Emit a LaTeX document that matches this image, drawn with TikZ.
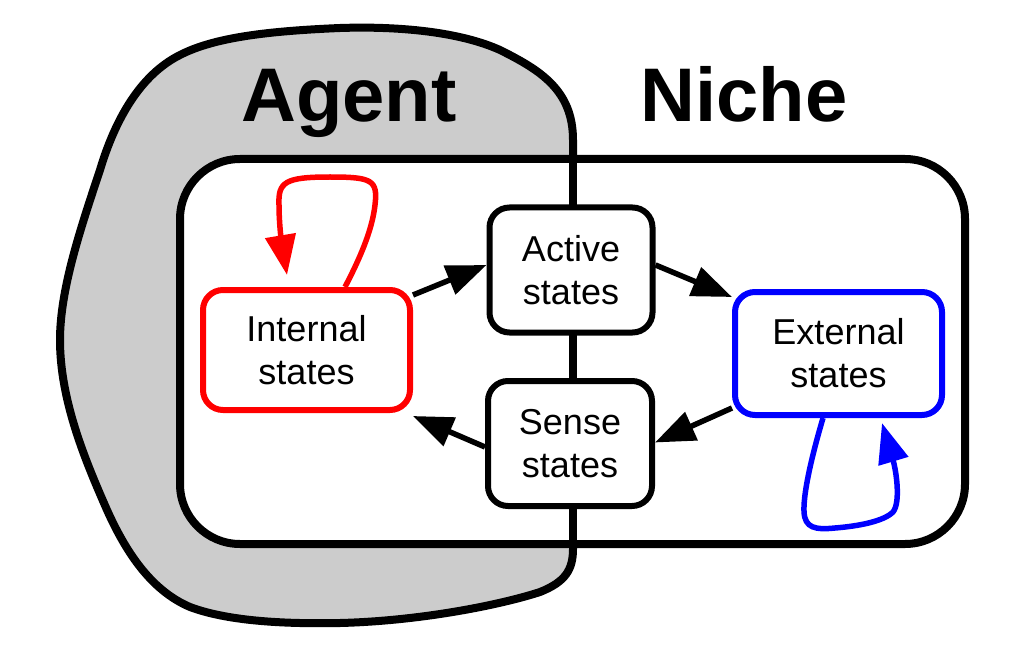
\documentclass[tikz,border=0pt]{standalone}
\usepackage{fontspec}
\setmainfont{Liberation Sans}
\usetikzlibrary{arrows.meta,calc}
\definecolor{blobgray}{RGB}{204,204,204}
\begin{document}
\begin{tikzpicture}[x=1pt,y=-1pt,
  statebox/.style={draw, line width=6pt, rounded corners=20pt, fill=white, inner sep=0pt, align=center, font=\fontsize{36}{43}\selectfont},
  conn/.style={line width=5.5pt, -{Triangle[length=40pt,width=30pt]}},
  loopconn/.style={line width=5.5pt, -{Triangle[length=40pt,width=30pt]}},
  title/.style={font=\fontsize{76}{80}\selectfont\bfseries, anchor=base, inner sep=0pt}]
\useasboundingbox (0,0) rectangle (1019,652);
% agent blob
\draw[line width=8pt, fill=blobgray] (573,549) -- (573,140)
  .. controls (573,90) and (540,70) .. (500,50)
  .. controls (460,32) and (400,26) .. (340,28)
  .. controls (270,31) and (215,37) .. (180,55)
  .. controls (140,75) and (115,120) .. (100,170)
  .. controls (80,230) and (60,290) .. (60,340)
  .. controls (60,400) and (85,460) .. (107,510)
  .. controls (125,550) and (150,590) .. (190,607)
  .. controls (230,622) and (290,624) .. (340,623)
  .. controls (420,621) and (500,605) .. (540,592)
  .. controls (565,582) and (573,570) .. (573,549) -- cycle;
% niche / markov blanket rectangle
\draw[line width=8pt, fill=white, rounded corners=60pt] (180,159) rectangle (965,544);
\draw[line width=8pt] (573,159) -- (573,544);
% titles
\node[title] (agent) at (349,122) {Agent};
\node[title] (niche) at (744,122) {Niche};
% state boxes
\node[statebox, draw=red, minimum width=207pt, minimum height=120pt] (int) at (306.5,350) {Internal\\states};
\node[statebox, minimum width=163pt, minimum height=125pt] (act) at (571,270) {Active\\states};
\node[statebox, minimum width=164pt, minimum height=125pt] (sen) at (570,443.5) {Sense\\states};
\node[statebox, draw=blue, minimum width=207pt, minimum height=123pt] (ext) at (838.5,353.5) {External\\states};
% connectors
\draw[conn] ([yshift=-8pt]int.north east) -- ([yshift=5pt]act.west);
\draw[conn] ([yshift=5pt]act.east) -- ([yshift=-8pt]ext.north west);
\draw[conn] ([yshift=10pt]ext.south west) -- ([yshift=1pt]sen.east);
\draw[conn] ([yshift=-3.5pt]sen.west) -- ([yshift=-3pt]int.south east);
% self loops
\coordinate (redtip) at (287,275);
\coordinate (bluetip) at (882,423);
\draw[loopconn, red] ([xshift=38.5pt]int.north)
  .. controls (358,262) and (372,232) .. (375,205)
  .. controls (378,180) and (372,177) .. (330,177)
  .. controls (285,177) and (278,182) .. (279,205)
  .. controls (279,225) and (282,245) .. (redtip);
\draw[loopconn, blue] ([xshift=-15.5pt]ext.south)
  .. controls (815,445) and (803,490) .. (804,512)
  .. controls (805,528) and (815,530) .. (835,528)
  .. controls (860,526) and (884,521) .. (893,512)
  .. controls (901,502) and (896,470) .. (bluetip);
\end{tikzpicture}
\end{document}
